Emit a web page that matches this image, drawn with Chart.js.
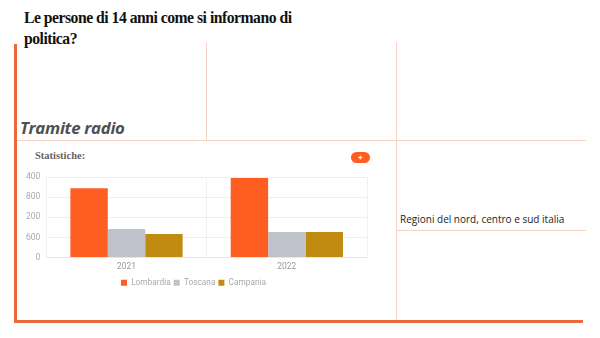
<!DOCTYPE html>
<html>
<head>
<meta charset="utf-8">
<script src="https://cdn.jsdelivr.net/npm/chart.js@4/dist/chart.umd.min.js"></script>
<style>
  html, body { margin: 0; padding: 0; background: #fff; }
  body { width: 600px; height: 338px; position: relative; overflow: hidden; }
  .abs { position: absolute; }
  #title { left: 24px; top: 7px; width: 268px; font: bold 15.7px/21px "Liberation Serif", "DejaVu Serif", serif; letter-spacing: -0.5px; color: #111; }
  .vline { width: 1px; background: #f6d3c6; }
  .hline { height: 1px; background: #f6d3c6; }
  #subtitle { left: 20px; top: 116px; font: italic bold 16.8px "Open Sans", sans-serif; letter-spacing: -0.3px; color: #505050; }
  #stat { left: 35px; top: 150px; font: bold 10.5px "Liberation Serif", serif; color: #666; }
  #plus { left: 351px; top: 152px; width: 19px; height: 11px; border-radius: 6px; background: #ff5e22; color: #fff; font: bold 8px/11px "Roboto", sans-serif; text-align: center; }
  #note { left: 400px; top: 212px; font: 10px "Open Sans", sans-serif; color: #222; }
  #chartBox { left: 20px; top: 166px; width: 357px; height: 131px; }
</style>
</head>
<body>
<div id="title" class="abs">Le persone di 14 anni come si informano di politica?</div>
<div class="abs vline" style="left:206px; top:42px; height:98px;"></div>
<div class="abs vline" style="left:396px; top:42px; height:278px;"></div>
<div class="abs hline" style="left:16px; top:140px; width:570px;"></div>
<div class="abs hline" style="left:396px; top:230px; width:190px;"></div>
<div class="abs" style="left:14px; top:44px; width:3px; height:279px; background:#ea6a3a;"></div>
<div class="abs" style="left:14px; top:320px; width:569px; height:3px; background:#ea6a3a;"></div>
<div id="subtitle" class="abs">Tramite radio</div>
<div id="stat" class="abs">Statistiche:</div>
<div id="plus" class="abs">+</div>
<div id="note" class="abs">Regioni del nord, centro e sud italia</div>
<div id="chartBox" class="abs"><canvas id="c"></canvas></div>
<script>
// Years on the x axis
const categories = ['2021', '2022'];
// Series per region
const lombardia = [345, 395];
const toscana = [142, 127];
const campania = [117, 127];
// Labels shown on the y axis, bottom to top
const tickLabels = ['0', '600', '200', '800', '400'];

new Chart(document.getElementById('c'), {
  type: 'bar',
  data: {
    labels: categories,
    datasets: [
      { label: 'Lombardia', data: lombardia, backgroundColor: '#ff5e22' },
      { label: 'Toscana', data: toscana, backgroundColor: '#c0c2cb' },
      { label: 'Campania', data: campania, backgroundColor: '#c08b10' }
    ]
  },
  options: {
    responsive: true,
    maintainAspectRatio: false,
    animation: false,
    layout: { padding: { left: 0, right: 10, top: 4, bottom: 0 } },
    datasets: { bar: { categoryPercentage: 0.7, barPercentage: 1.0 } },
    scales: {
      x: {
        grid: { display: true, color: '#f0f0f0', drawTicks: false, offset: true },
        border: { color: '#e6e6e6' },
        ticks: { color: '#999', font: { family: 'Roboto', size: 8.5 }, padding: 4 }
      },
      y: {
        min: 0, max: 400,
        grid: { color: '#eeeeee', drawTicks: false },
        border: { display: false },
        ticks: {
          stepSize: 100,
          color: '#aaa',
          font: { family: 'Roboto', size: 8.5 },
          padding: 6,
          callback: (v) => tickLabels[Math.round(v / 100)]
        }
      }
    },
    plugins: {
      legend: {
        position: 'bottom',
        labels: { color: '#aaa', font: { family: 'Roboto', size: 8.3 }, boxWidth: 6, boxHeight: 6, padding: 3 }
      },
      tooltip: { enabled: false }
    }
  }
});
</script>
</body>
</html>
